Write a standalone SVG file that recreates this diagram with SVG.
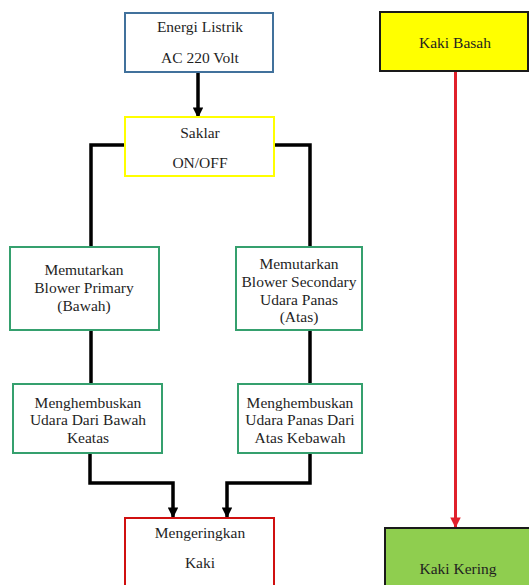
<svg xmlns="http://www.w3.org/2000/svg" width="529" height="585" viewBox="0 0 529 585">
<style>
text{font-family:'Liberation Serif','Times New Roman','DejaVu Serif',serif;font-size:15.5px;fill:#1f1f1f;text-anchor:middle}
.box{fill:#fff;stroke-width:2}
.g{stroke:#35a06e}
.k{fill:none;stroke:#000;stroke-width:3.5}
</style>
<defs>
<marker id="ab" viewBox="0 0 10 10" refX="9" refY="5" markerWidth="3.2" markerHeight="3" orient="auto" markerUnits="strokeWidth"><path d="M0,0L10,5L0,10z" fill="#000"/></marker>
<marker id="ar" viewBox="0 0 10 10" refX="9" refY="5" markerWidth="4" markerHeight="3.5" orient="auto" markerUnits="strokeWidth"><path d="M0,0L10,5L0,10z" fill="#e0202b"/></marker>
</defs>
<rect width="529" height="585" fill="#fff"/>
<g id="connectors">
<line class="k" x1="198" y1="72" x2="198" y2="117" marker-end="url(#ab)"/>
<polyline class="k" points="125,145 91,145 91,247"/>
<polyline class="k" points="274,145 310,145 310,247"/>
<line class="k" x1="91" y1="330" x2="91" y2="384"/>
<line class="k" x1="310" y1="330" x2="310" y2="384"/>
<polyline class="k" points="90,453 90,483 173,483 173,517" marker-end="url(#ab)"/>
<polyline class="k" points="310,453 310,483 227,483 227,517" marker-end="url(#ab)"/>
<line x1="455.5" y1="71" x2="455.5" y2="527" stroke="#e0202b" stroke-width="3" marker-end="url(#ar)"/>
</g>
<g id="energi">
<rect class="box" x="125" y="13" width="148" height="59" stroke="#41719c"/>
<text x="200" y="32">Energi Listrik</text>
<text x="200" y="63">AC 220 Volt</text>
</g>
<g id="saklar">
<rect class="box" x="125" y="117" width="149" height="59" stroke="#ffff00"/>
<text x="200" y="138">Saklar</text>
<text x="200" y="168">ON/OFF</text>
</g>
<g id="blower-primary">
<rect class="box g" x="10" y="247" width="149" height="83"/>
<text x="84" y="275">Memutarkan</text>
<text x="84" y="293">Blower Primary</text>
<text x="84" y="311">(Bawah)</text>
</g>
<g id="blower-secondary">
<rect class="box g" x="236" y="247" width="126" height="83"/>
<text x="299" y="269">Memutarkan</text>
<text x="299" y="287">Blower Secondary</text>
<text x="299" y="305">Udara Panas</text>
<text x="299" y="322">(Atas)</text>
</g>
<g id="hembus-bawah">
<rect class="box g" x="13" y="384" width="149" height="69"/>
<text x="88" y="408">Menghembuskan</text>
<text x="88" y="425">Udara Dari Bawah</text>
<text x="88" y="443">Keatas</text>
</g>
<g id="hembus-atas">
<rect class="box g" x="238" y="384" width="124" height="69"/>
<text x="300" y="408">Menghembuskan</text>
<text x="300" y="425">Udara Panas Dari</text>
<text x="300" y="443">Atas Kebawah</text>
</g>
<g id="mengeringkan">
<rect class="box" x="125" y="518" width="149" height="70" stroke="#d01010"/>
<text x="200" y="538">Mengeringkan</text>
<text x="200" y="568">Kaki</text>
</g>
<g id="kaki-basah">
<rect x="380" y="12" width="148" height="59" fill="#ffff00" stroke="#1a1a1a" stroke-width="2"/>
<text x="455" y="48">Kaki Basah</text>
</g>
<g id="kaki-kering">
<rect x="385" y="528" width="148" height="62" fill="#8fce4f" stroke="#1a1a1a" stroke-width="2"/>
<text x="458" y="574">Kaki Kering</text>
</g>
</svg>
